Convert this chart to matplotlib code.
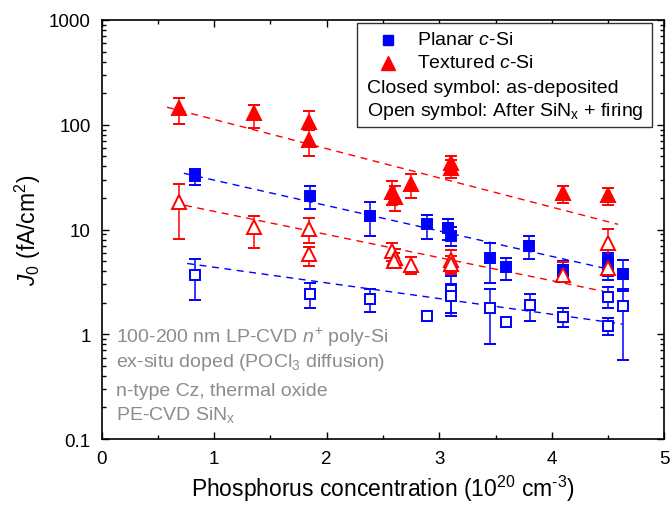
import matplotlib
matplotlib.use("Agg")
import matplotlib.pyplot as plt
import numpy as np
from matplotlib.patches import Rectangle
from matplotlib.ticker import LogLocator, FixedLocator, NullFormatter

plt.rcParams['font.family'] = ['Liberation Sans', 'DejaVu Sans']
plt.rcParams['mathtext.fontset'] = 'custom'
plt.rcParams['mathtext.rm'] = 'Liberation Sans'
plt.rcParams['mathtext.it'] = 'Liberation Sans:italic'

BLUE = '#0000ff'
RED = '#ff0000'
GRAY = '#8c8c8c'

# Planar c-Si, as-deposited (closed squares)
pl_dep_x = [0.83, 1.85, 2.38, 2.89, 3.08, 3.10, 3.45, 3.59, 3.80, 4.10, 4.50, 4.50, 4.63]
pl_dep_y = [32.5, 20.9, 13.4, 11.2, 10.4, 8.6, 5.3, 4.4, 6.9, 4.15, 5.1, 4.0, 3.8]
pl_dep_lo = [26.4, 15.8, 8.6, 8.2, 8.0, 7.0, 3.06, 3.3, 5.2, 3.56, 4.2, 3.3, 2.7]
pl_dep_hi = [38.0, 25.8, 18.3, 13.9, 12.7, 10.5, 7.5, 5.4, 8.6, 5.0, 6.0, 5.0, 5.1]

# Planar c-Si, after SiNx + firing (open squares)
pl_fir_x = [0.83, 1.85, 2.38, 2.89, 3.10, 3.10, 3.45, 3.59, 3.81, 4.10, 4.50, 4.50, 4.63]
pl_fir_y = [3.67, 2.44, 2.17, 1.51, 2.64, 2.30, 1.80, 1.32, 1.90, 1.46, 2.29, 1.20, 1.87]
pl_fir_lo = [2.14, 1.77, 1.62, 1.51, 1.50, 1.60, 0.80, 1.32, 1.33, 1.17, 1.77, 0.99, 0.57]
pl_fir_hi = [5.2, 3.1, 2.7, 1.51, 3.6, 3.0, 2.7, 1.32, 2.42, 1.77, 2.84, 1.42, 2.57]

# Textured c-Si, as-deposited (closed triangles)
tx_dep_x = [0.69, 1.35, 1.84, 1.84, 2.58, 2.61, 2.75, 3.10, 3.10, 4.10, 4.50]
tx_dep_y = [144, 129, 107, 72, 23, 20.5, 27.4, 43, 39, 22.5, 21.2]
tx_dep_lo = [102, 94, 93, 50, 17, 15, 20.2, 35, 31, 18, 17.3]
tx_dep_hi = [181, 154, 136, 90, 29, 26, 34, 50, 46, 26, 25]

# Textured c-Si, after SiNx + firing (open triangles)
tx_fir_x = [0.69, 1.35, 1.84, 1.84, 2.58, 2.61, 2.60, 2.75, 3.10, 3.10, 4.10, 4.50, 4.50]
tx_fir_y = [18.3, 10.6, 10.1, 5.9, 6.2, 5.4, 5.0, 4.6, 5.1, 4.7, 3.67, 7.4, 4.3]
tx_fir_lo = [8.2, 6.7, 7.5, 4.5, 5.0, 4.6, 4.3, 3.8, 3.75, 3.9, 3.2, 5.3, 3.6]
tx_fir_hi = [26.9, 13.5, 13.0, 6.8, 7.5, 6.5, 6.0, 5.5, 6.4, 5.6, 4.9, 10.2, 5.2]

# exponential fit lines (end points)
fit_tx_dep = ([0.58, 4.59], [147, 11.2])
fit_pl_dep = ([0.73, 4.54], [34.4, 4.1])
fit_tx_fir = ([0.74, 4.46], [17.0, 2.57])
fit_pl_fir = ([0.76, 4.63], [4.74, 1.25])

fig = plt.figure(figsize=(6.7, 5.06), dpi=100)
ax = fig.add_axes([0.1518, 0.1304, 0.8397, 0.8281])

# dashed fit lines
for (fx, fy), c in [(fit_tx_dep, RED), (fit_pl_dep, BLUE),
                    (fit_tx_fir, RED), (fit_pl_fir, BLUE)]:
    ax.plot(fx, fy, color=c, lw=1.0, ls=(0, (5, 4)), zorder=1)


def series(x, y, lo, hi, color, marker, ms, filled):
    y = np.array(y)
    err = [y - np.array(lo), np.array(hi) - y]
    ax.errorbar(x, y, yerr=err, fmt=marker, color=color, ms=ms,
                mfc=color if filled else 'white', mec=color, mew=1.4,
                elinewidth=1.1, capsize=4.5, capthick=1.1, zorder=3)


series(pl_dep_x, pl_dep_y, pl_dep_lo, pl_dep_hi, BLUE, 's', 7.5, True)
series(pl_fir_x, pl_fir_y, pl_fir_lo, pl_fir_hi, BLUE, 's', 7.5, False)
series(tx_dep_x, tx_dep_y, tx_dep_lo, tx_dep_hi, RED, '^', 10, True)
series(tx_fir_x, tx_fir_y, tx_fir_lo, tx_fir_hi, RED, '^', 10, False)

ax.set_yscale('log')
ax.set_xlim(0, 5)
ax.set_ylim(0.1, 1000)
ax.xaxis.set_major_locator(FixedLocator([0, 1, 2, 3, 4, 5]))
ax.xaxis.set_minor_locator(FixedLocator([0.5, 1.5, 2.5, 3.5, 4.5]))
ax.yaxis.set_minor_locator(LogLocator(base=10, subs=np.arange(2, 10), numticks=10))
ax.yaxis.set_minor_formatter(NullFormatter())
ax.set_yticks([0.1, 1, 10, 100, 1000])
ax.set_yticklabels(['0.1', '1', '10', '100', '1000'])
ax.tick_params(which='both', direction='in', top=True, right=True, width=1.0, labelsize=13.5)
ax.tick_params(which='major', length=5, pad=8)
ax.tick_params(which='minor', length=3)
for s in ax.spines.values():
    s.set_linewidth(1.2)

ax.set_xlabel('Phosphorus concentration (10$^{20}$ cm$^{\\text{-}3}$)', fontsize=16.5, labelpad=4)
ax.set_ylabel('$J_0$ (fA/cm$^2$)', fontsize=16.5, labelpad=4)

# legend box drawn by hand
ax.add_patch(Rectangle((0.4543, 0.7442), 0.5233, 0.2486, transform=ax.transAxes,
                       fill=True, fc='white', ec='#333333', lw=1.0, zorder=5))
ax.plot([0.5089], [0.953], 's', color=BLUE, ms=7.5, transform=ax.transAxes, zorder=6)
ax.plot([0.5089], [0.8975], '^', color=RED, ms=10, transform=ax.transAxes, zorder=6)
ax.text(0.5599, 0.953, 'Planar $c$-Si', transform=ax.transAxes, fontsize=14,
        va='center', zorder=6)
ax.text(0.5599, 0.8975, 'Textured $c$-Si', transform=ax.transAxes, fontsize=14,
        va='center', zorder=6)
ax.text(0.471, 0.8396, 'Closed symbol: as-deposited', transform=ax.transAxes,
        fontsize=14, va='center', zorder=6)
ax.text(0.471, 0.7838, 'Open symbol: After SiN$_\\mathrm{x}$ + firing',
        transform=ax.transAxes, fontsize=14, va='center', zorder=6)

# sample description
notes = ['100-200 nm LP-CVD $n^{+}$ poly-Si',
         'ex-situ doped (POCl$_3$ diffusion)',
         'n-type Cz, thermal oxide',
         'PE-CVD SiN$_\\mathrm{x}$']
for yy, t in zip([0.2316, 0.1745, 0.1055, 0.0489], notes):
    ax.text(0.0254, yy, t, transform=ax.transAxes, fontsize=14, color=GRAY, va='baseline')

fig.savefig('out.png', dpi=100)
